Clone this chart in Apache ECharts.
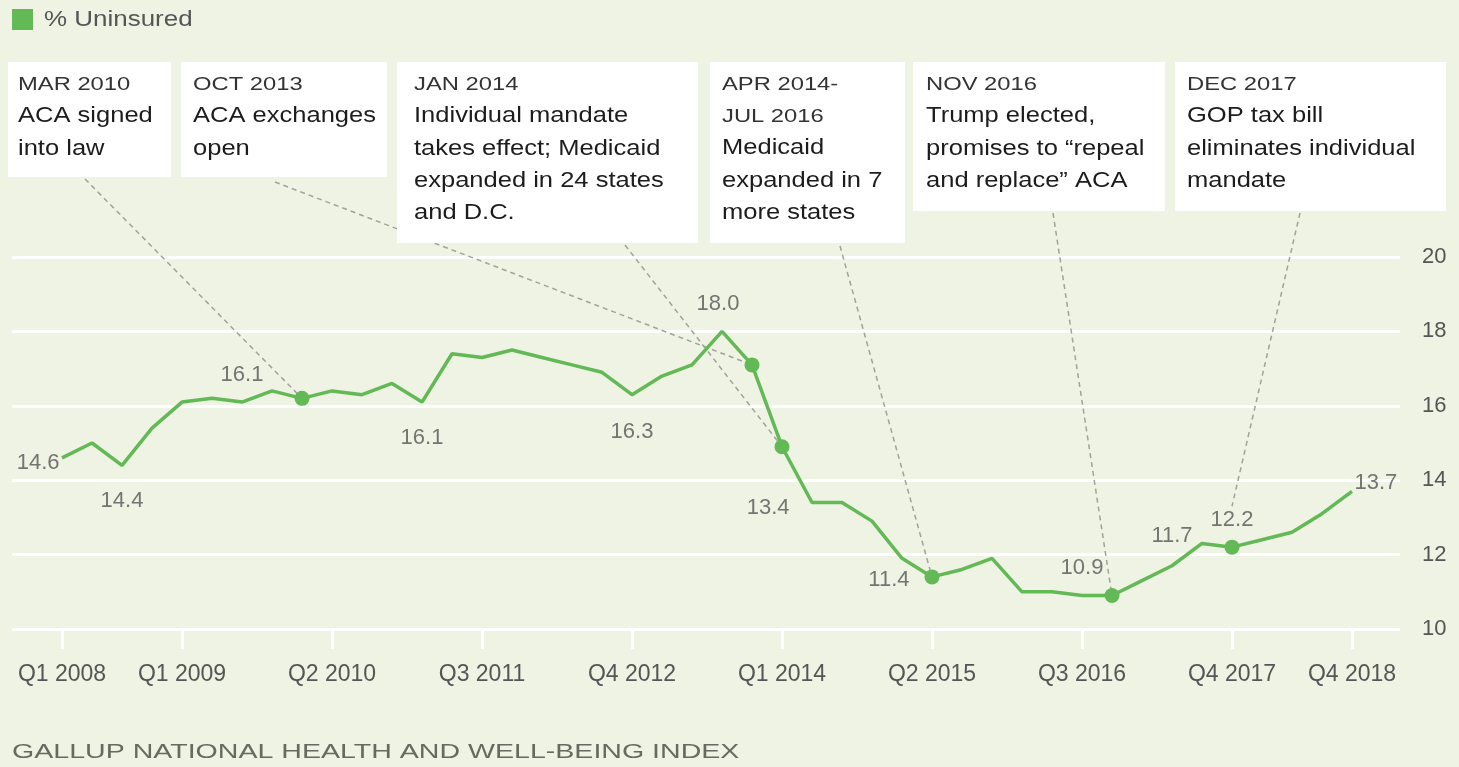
<!DOCTYPE html>
<html>
<head>
<meta charset="utf-8">
<script src="https://cdn.jsdelivr.net/npm/echarts@6/dist/echarts.min.js"></script>
<style>
  html, body { margin: 0; padding: 0; background: #eef3e3; }
  #chart { width: 1459px; height: 767px; }
</style>
</head>
<body>
<div id="chart"></div>
<script>
// quarterly % uninsured, Q1 2008 .. Q4 2018 (index 0..43)
const uninsured = [
  14.6, 15.0, 14.4, 15.4, 16.1, 16.2, 16.1, 16.4,
  16.2, 16.4, 16.3, 16.6, 16.1, 17.4, 17.3, 17.5,
  17.3, 17.1, 16.9, 16.3, 16.8, 17.1, 18.0, 17.1,
  14.9, 13.4, 13.4, 12.9, 11.9, 11.4, 11.6, 11.9,
  11.0, 11.0, 10.9, 10.9, 11.3, 11.7, 12.3, 12.2,
  12.4, 12.6, 13.1, 13.7
]
const tickIdx = [0, 4, 9, 14, 19, 24, 29, 34, 39, 43]
const tickLabels = ['Q1 2008', 'Q1 2009', 'Q2 2010', 'Q3 2011', 'Q4 2012',
  'Q1 2014', 'Q2 2015', 'Q3 2016', 'Q4 2017', 'Q4 2018']
const yTicks = [10, 12, 14, 16, 18, 20]
// quarters with an event dot
const eventIdx = [8, 23, 24, 29, 35, 39]
// quarters with a printed value
const labelIdx = [0, 2, 6, 12, 19, 22, 25, 29, 34, 37, 39, 43]

const notes = [
  { date: 'MAR 2010', text: 'ACA signed\ninto law' },
  { date: 'OCT 2013', text: 'ACA exchanges\nopen' },
  { date: 'JAN 2014', text: 'Individual mandate\ntakes effect; Medicaid\nexpanded in 24 states\nand D.C.' },
  { date: 'APR 2014-\nJUL 2016', text: 'Medicaid\nexpanded in 7\nmore states' },
  { date: 'NOV 2016', text: 'Trump elected,\npromises to \u201crepeal\nand replace\u201d ACA' },
  { date: 'DEC 2017', text: 'GOP tax bill\neliminates individual\nmandate' }
]

const GREEN = '#62b955'
const FONT = '"Liberation Sans", Arial, sans-serif'

// note box layout [x, width, height]
const boxes = [[8, 163, 115], [181, 206, 115], [397, 301, 181], [710, 195, 181], [913, 252, 149], [1175, 271, 149]]
const pads = [10, 12, 17, 12, 13, 12]
// where the dashed leaders leave the boxes
const leaderStart = [[85, 179], [275, 182], [625, 245], [840, 246], [1053, 213], [1300, 213]]

const labelPlace = {
  0: { position: 'left', distance: 2, offset: [0, 5] },
  2: { position: 'bottom', distance: 24 },
  6: { position: 'top', distance: 16 },
  12: { position: 'bottom', distance: 24 },
  19: { position: 'bottom', distance: 26 },
  22: { position: 'top', distance: 16, offset: [-4, 0] },
  25: { position: 'left', distance: 22, offset: [0, 5] },
  29: { position: 'left', distance: 22, offset: [0, 3] },
  34: { position: 'top', distance: 16 },
  37: { position: 'top', distance: 18 },
  39: { position: 'top', distance: 16 },
  43: { position: 'right', distance: 2, offset: [0, -8] }
}

const valueData = labelIdx.map(i => ({
  value: [i, uninsured[i]],
  label: Object.assign({
    show: true,
    formatter: uninsured[i].toFixed(1),
    fontFamily: FONT,
    fontSize: 22,
    color: '#555'
  }, labelPlace[i])
}))

const leaders = eventIdx.map((idx, k) => {
  const end = k === 5 ? [idx, uninsured[idx] + 1.1] : [idx, uninsured[idx]]
  return [{ x: leaderStart[k][0], y: leaderStart[k][1] }, { coord: end }]
})

const graphics = []
notes.forEach((n, k) => {
  const [bx, bw, bh] = boxes[k]
  const tx = bx + pads[k]
  const dateLines = n.date.split('\n').length
  graphics.push({
    type: 'rect', shape: { x: bx, y: 62, width: bw, height: bh },
    style: { fill: '#ffffff' }, z: 10
  })
  graphics.push({
    type: 'text', x: tx, y: 69, scaleX: 1.32, z: 11,
    style: { text: n.date, font: '18px ' + FONT, fill: '#333', lineHeight: 32, verticalAlign: 'top' }
  })
  graphics.push({
    type: 'text', x: tx, y: 69 + dateLines * 32 - 1, scaleX: 1.16, z: 11,
    style: { text: n.text, font: '22px ' + FONT, fill: '#1c1c1c', lineHeight: 32.3, verticalAlign: 'top' }
  })
})
// legend key
graphics.push({
  type: 'rect', shape: { x: 12, y: 9, width: 21, height: 21 },
  style: { fill: GREEN }
})
graphics.push({
  type: 'text', x: 44, y: 20, scaleX: 1.18,
  style: { text: '% Uninsured', font: '22px ' + FONT, fill: '#555', verticalAlign: 'middle' }
})
graphics.push({
  type: 'text', x: 12, y: 752, scaleX: 1.36,
  style: { text: 'GALLUP NATIONAL HEALTH AND WELL-BEING INDEX', font: '21px ' + FONT, fill: '#666a60', verticalAlign: 'middle' }
})

const chart = echarts.init(document.getElementById('chart'))
chart.setOption({
  backgroundColor: '#eef3e3',
  animation: false,
  textStyle: { fontFamily: FONT },
  grid: { left: 12, right: 59, top: 257, bottom: 138 },
  xAxis: {
    type: 'value',
    min: -1.667,
    max: 44.6,
    axisLine: { show: false },
    splitLine: { show: false },
    axisTick: {
      show: true,
      customValues: tickIdx,
      length: 20,
      lineStyle: { color: '#ffffff', width: 3 }
    },
    axisLabel: {
      customValues: tickIdx,
      margin: 34,
      fontSize: 23,
      color: '#555',
      fontFamily: FONT,
      formatter: v => tickLabels[tickIdx.indexOf(Math.round(v))] || ''
    }
  },
  yAxis: {
    type: 'value',
    position: 'right',
    min: yTicks[0],
    max: yTicks[yTicks.length - 1],
    interval: 2,
    axisLine: { show: false },
    axisTick: { show: false },
    axisLabel: { margin: 22, fontSize: 22, color: '#555', fontFamily: FONT },
    splitLine: { lineStyle: { color: '#ffffff', width: 3 } }
  },
  series: [
    {
      name: '% Uninsured',
      type: 'line',
      data: uninsured.map((v, i) => [i, v]),
      showSymbol: false,
      color: GREEN,
      lineStyle: { color: GREEN, width: 3.5 },
      itemStyle: { color: GREEN },
      z: 3,
      markLine: {
        silent: true,
        symbol: ['none', 'none'],
        label: { show: false },
        lineStyle: { type: [5, 4], color: '#a0a39a', width: 1.5 },
        data: leaders,
        z: 2
      }
    },
    {
      name: 'events',
      type: 'scatter',
      data: eventIdx.map(i => [i, uninsured[i]]),
      symbolSize: 15,
      itemStyle: { color: GREEN, opacity: 1 },
      z: 4
    },
    {
      name: 'values',
      type: 'scatter',
      data: valueData,
      symbolSize: 1,
      itemStyle: { color: 'rgba(0,0,0,0)' },
      silent: true,
      z: 5
    }
  ],
  graphic: graphics
})
</script>
</body>
</html>
